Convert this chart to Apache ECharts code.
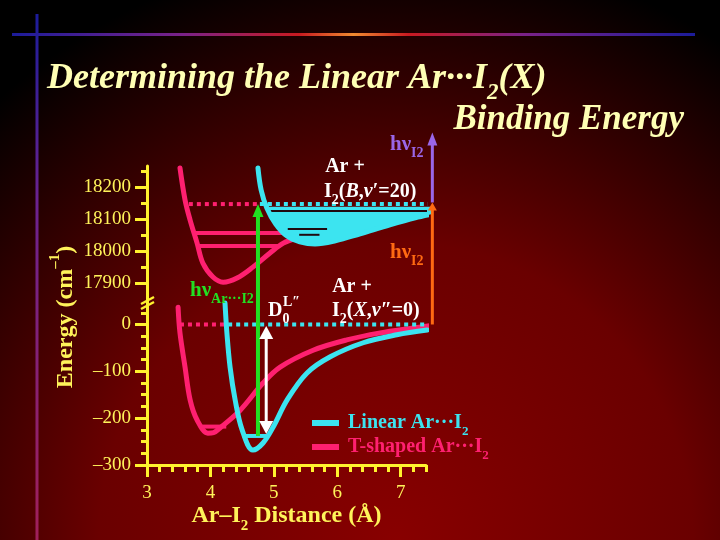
<!DOCTYPE html>
<html><head><meta charset="utf-8">
<script src="https://cdn.jsdelivr.net/npm/echarts@6/dist/echarts.min.js"></script>
<style>html,body{margin:0;padding:0;background:#000}#c{width:720px;height:540px}</style>
</head><body><div id="c"></div>
<script>
// ---------- data ----------
// upper (B state) potentials, energy in cm^-1, distance in Å
const pinkB_x = [3.52,3.60,3.68,3.79,3.88,4.04,4.20,4.42,4.67,4.94,5.15,5.37,5.73,6.36,6.99,7.46];
const pinkB_E = [18259,18159,18096,18024,17962,17918,17902,17915,17949,17993,18024,18040,18056,18081,18102,18118];
const cyanB_x = [4.75,4.80,4.89,5.03,5.21,5.41,5.65,5.97,6.36,6.83,7.23,7.50];
const cyanB_E = [18259,18190,18134,18084,18046,18028,18021,18031,18053,18081,18103,18115];
const cyanBFillTop = 18138;
// upper vibrational levels
const pinkBLevelE = [18056, 18015];
const pinkBLevelL = [3.73, 3.82];
const pinkBLevelR = [5.78, 5.10];
const cyanBLevelE = [18124, 18068, 18050];
const cyanBLevelL = [4.93, 5.22, 5.40];
const cyanBLevelR = [7.50, 5.84, 5.72];
const levelB = 18146;            // Ar + I2(B, v'=20)
const levelBPink = [3.66, 4.75];
const levelBCyan = [4.78, 7.49];
// lower (X state) potentials
const pinkX_x = [3.49,3.52,3.60,3.68,3.79,3.96,4.05,4.15,4.47,4.83,5.10,5.62,6.15,6.68,7.20,7.43];
const pinkX_E = [37,-18,-91,-161,-204,-232,-231,-221,-183,-125,-91,-55,-33,-18,-7.5,-3];
const cyanX_x = [4.23,4.26,4.31,4.39,4.50,4.67,4.83,4.99,5.21,5.52,5.89,6.41,6.94,7.42];
const cyanX_E = [46,-18,-91,-161,-225,-268,-253,-219,-161,-104,-69,-39,-22,-12];
const pinkXLevel = {E:-218, L:3.84, R:4.25};
const cyanXLevel = {E:-238, L:4.51, R:4.89};
const levelX = 0;                // Ar + I2(X, v''=0)
const levelXPink = [3.52, 4.28];
const levelXCyan = [4.28, 7.43];
// transitions
const greenX = 4.75, whiteX = 4.88, sideX = 7.50;
const purpleTop = 18370;
// axes
const upperMin = 17840, upperMax = 18265;
const lowerMin = -300, lowerMax = 48;
const xMin = 3, xMax = 7.4;
const upperLabels = [17900, 18000, 18100, 18200];
const upperMinor = [17950, 18050, 18150, 18250];
const lowerLabels = [0, -100, -200, -300];
const lowerMinor = [25, -25, -50, -75, -125, -150, -175, -225, -250, -275];
const xLabels = [3, 4, 5, 6, 7];
const xMinor = [3.2,3.4,3.6,3.8,4.2,4.4,4.6,4.8,5.2,5.4,5.6,5.8,6.2,6.4,6.6,6.8,7.2,7.4];

// ---------- style ----------
const FONT = '"Liberation Serif","Times New Roman",serif';
const CYAN = '#3CE4F0', PINK = '#FF2070', GREEN = '#22E022', ORANGE = '#FF6A12', PURPLE = '#9A66E8';
const YEL = '#FFF22E', YELT = '#FFF35A', TITLE = '#FFFFB4';

const chart = echarts.init(document.getElementById('c'), null, {renderer:'canvas'});

function pts(xs, ys){ return xs.map((x,i)=>[x, ys[i]]); }
function curve(name, xi, yi, xs, ys, color, width, z){
  return {type:'line', name, xAxisIndex:xi, yAxisIndex:yi, data:pts(xs,ys), smooth:0.35,
    symbol:'none', clip:false, silent:true, z, lineStyle:{color, width, cap:'round', join:'round'}, itemStyle:{color}};
}
function seg(xi, yi, x0, x1, y, color, width, dotted, z){
  return {type:'line', xAxisIndex:xi, yAxisIndex:yi, data:[[x0,y],[x1,y]], symbol:'none', clip:false, silent:true, z,
    lineStyle:{color, width, type: dotted ? [4,4] : 'solid', cap:'butt'}};
}
function arrow(xi, yi, x, y0, y1, color, width, headEnd, headStart, hl, hw, z){
  return {type:'custom', xAxisIndex:xi, yAxisIndex:yi, clip:false, silent:true, z,
    data:[[x,y0,y1]], encode:{x:0, y:[1,2]},
    renderItem:(p, api)=>{
      const a = api.coord([api.value(0), api.value(1)]);
      const b = api.coord([api.value(0), api.value(2)]);
      const dx=b[0]-a[0], dy=b[1]-a[1], L=Math.hypot(dx,dy), ux=dx/L, uy=dy/L;
      const head=(t,vx,vy)=>({type:'polygon', shape:{points:[
        [t[0],t[1]],
        [t[0]-vx*hl+(-vy)*hw/2, t[1]-vy*hl+vx*hw/2],
        [t[0]-vx*hl-(-vy)*hw/2, t[1]-vy*hl-vx*hw/2]]}, style:{fill:color}});
      let s=a, e=b; const ch=[];
      if(headEnd){ e=[b[0]-ux*hl*0.8, b[1]-uy*hl*0.8]; ch.push(head(b,ux,uy)); }
      if(headStart){ s=[a[0]+ux*hl*0.8, a[1]+uy*hl*0.8]; ch.push(head(a,-ux,-uy)); }
      ch.unshift({type:'line', shape:{x1:s[0],y1:s[1],x2:e[0],y2:e[1]}, style:{stroke:color, lineWidth:width}});
      return {type:'group', children:ch};
    }};
}

const series = [];
// ---- upper grid (0) ----
series.push(curve('pinkB', 0, 0, pinkB_x, pinkB_E, PINK, 5, 2));
pinkBLevelE.forEach((E,i)=>series.push(seg(0,0,pinkBLevelL[i],pinkBLevelR[i],E,PINK,4,false,2)));
series.push(seg(0,0,levelBPink[0],levelBPink[1],levelB,PINK,4,true,2));
series.push({type:'custom', xAxisIndex:0, yAxisIndex:0, clip:false, silent:true, z:3,
  data:[[5.5,18100]],
  renderItem:(p, api)=>{
    const inside = pts(cyanB_x, cyanB_E).filter(d=>d[1] <= cyanBFillTop);
    const poly = inside.map(d=>api.coord(d));
    poly.push(api.coord([inside[inside.length-1][0], cyanBFillTop]));
    poly.push(api.coord([inside[0][0], cyanBFillTop]));
    return {type:'polygon', shape:{points:poly, smooth:0}, style:{fill:CYAN}};
  }});
cyanBLevelE.forEach((E,i)=>series.push(seg(0,0,cyanBLevelL[i],cyanBLevelR[i],E,'#200a10',2,false,4)));
series.push(curve('cyanB', 0, 0, cyanB_x, cyanB_E, CYAN, 5, 5));
series.push(seg(0,0,levelBCyan[0],levelBCyan[1],levelB,CYAN,4,true,5));
// ---- lower grid (1) ----
series.push(curve('T-shaped', 1, 2, pinkX_x, pinkX_E, PINK, 5, 2));
series.push(seg(1,2,pinkXLevel.L,pinkXLevel.R,pinkXLevel.E,PINK,4,false,2));
series.push(seg(1,2,levelXPink[0],levelXPink[1],levelX,PINK,4,true,2));
series.push(curve('Linear', 1, 2, cyanX_x, cyanX_E, CYAN, 5, 3));
series.push(seg(1,2,cyanXLevel.L,cyanXLevel.R,cyanXLevel.E,CYAN,4,false,3));
series.push(seg(1,2,levelXCyan[0],levelXCyan[1],levelX,CYAN,4,true,3));
// ---- transitions ----
series.push(arrow(1,2,greenX,cyanXLevel.E,lowerMax,GREEN,4,false,false,12,11,8));
series.push(arrow(0,0,greenX,upperMin,levelB,GREEN,4,true,false,13,11,8));
series.push(arrow(1,2,whiteX,cyanXLevel.E+4,levelX-3,'#FFFFFF',3,true,true,13,14,8));
series.push(arrow(1,2,sideX,levelX,lowerMax,ORANGE,3,false,false,8,8,8));
series.push(arrow(0,0,sideX,upperMin,levelB+5,ORANGE,3,true,false,8,9,8));
series.push(arrow(0,0,sideX,levelB+5,purpleTop,PURPLE,3,true,false,13,10,8));

const axisLbl = {color:YELT, fontFamily:FONT, fontSize:19};
const option = {
  backgroundColor: new echarts.graphic.RadialGradient(0.55, 1.0, 1.1, [
    {offset:0, color:'#880000'}, {offset:0.5, color:'#6a0000'}, {offset:1, color:'#000000'}]),
  animation:false,
  grid:[
    {left:147, top:166, width:279, height:136},
    {left:147, top:302, width:279, height:163}
  ],
  xAxis:[
    {gridIndex:0, type:'value', min:xMin, max:xMax, show:false},
    {gridIndex:1, type:'value', min:xMin, max:xMax, position:'bottom',
      axisLine:{show:true, onZero:false, lineStyle:{color:YEL, width:3}},
      axisTick:{show:true, customValues:xLabels, length:12, lineStyle:{color:YEL, width:3}},
      axisLabel:Object.assign({customValues:xLabels, margin:19}, axisLbl),
      splitLine:{show:false},
      name:'{a|Ar–I}{s|2}{a| Distance (Å)}', nameLocation:'middle', nameGap:37,
      nameTextStyle:{rich:{a:{color:YELT, fontFamily:FONT, fontSize:24, fontWeight:'bold'},
        s:{color:YELT, fontFamily:FONT, fontSize:15, fontWeight:'bold', verticalAlign:'bottom', padding:[0,0,-6,0]}}}},
    {gridIndex:1, type:'value', min:xMin, max:xMax, position:'bottom',
      axisLine:{show:false, onZero:false}, axisTick:{show:true, customValues:xMinor, length:7, lineStyle:{color:YEL, width:3}},
      axisLabel:{show:false}, splitLine:{show:false}}
  ],
  yAxis:[
    {gridIndex:0, type:'value', min:upperMin, max:upperMax, position:'left',
      axisLine:{show:true, onZero:false, lineStyle:{color:YEL, width:3}},
      axisTick:{show:true, customValues:upperLabels, length:12, lineStyle:{color:YEL, width:3}},
      axisLabel:Object.assign({customValues:upperLabels, margin:16, formatter:v=>String(v)}, axisLbl),
      splitLine:{show:false}},
    {gridIndex:0, type:'value', min:upperMin, max:upperMax, position:'left',
      axisLine:{show:false, onZero:false}, axisTick:{show:true, customValues:upperMinor, length:6, lineStyle:{color:YEL, width:3}},
      axisLabel:{show:false}, splitLine:{show:false}},
    {gridIndex:1, type:'value', min:lowerMin, max:lowerMax, position:'left',
      axisLine:{show:true, onZero:false, lineStyle:{color:YEL, width:3}},
      axisTick:{show:true, customValues:lowerLabels, length:12, lineStyle:{color:YEL, width:3}},
      axisLabel:Object.assign({customValues:lowerLabels, margin:16,
        formatter:v=> v<0 ? '–'+Math.abs(v) : String(v)}, axisLbl),
      splitLine:{show:false}},
    {gridIndex:1, type:'value', min:lowerMin, max:lowerMax, position:'left',
      axisLine:{show:false, onZero:false}, axisTick:{show:true, customValues:lowerMinor, length:6, lineStyle:{color:YEL, width:3}},
      axisLabel:{show:false}, splitLine:{show:false}}
  ],
  legend:{
    show:true, orient:'vertical', left:307, top:408, itemWidth:27, itemHeight:6, itemGap:-1,
    icon:'rect', selectedMode:false,
    data:[{name:'Linear', itemStyle:{color:CYAN}}, {name:'T-shaped', itemStyle:{color:PINK}}],
    formatter:n=> n==='Linear' ? '{c|Linear Ar···I}{cs|2}' : '{p|T-shaped Ar···I}{ps|2}',
    textStyle:{fontFamily:FONT, fontSize:20, fontWeight:'bold', padding:[0,0,0,4],
      rich:{c:{color:CYAN, fontFamily:FONT, fontSize:20, fontWeight:'bold'},
            cs:{color:CYAN, fontFamily:FONT, fontSize:13, fontWeight:'bold', verticalAlign:'bottom', padding:[0,0,-5,0]},
            p:{color:PINK, fontFamily:FONT, fontSize:20, fontWeight:'bold'},
            ps:{color:PINK, fontFamily:FONT, fontSize:13, fontWeight:'bold', verticalAlign:'bottom', padding:[0,0,-5,0]}}}
  },
  series,
  graphic:[
    // decorative rules
    {type:'rect', silent:true, z:-1, shape:{x:12, y:33, width:683, height:3},
      style:{fill:new echarts.graphic.LinearGradient(0,0,1,0,[
        {offset:0,color:'#1c1c9a'},{offset:0.25,color:'#7a2288'},{offset:0.42,color:'#c81a20'},
        {offset:0.5,color:'#f08a30'},{offset:0.58,color:'#c81a20'},{offset:0.75,color:'#7a2288'},{offset:1,color:'#1c1c9a'}])}},
    {type:'rect', silent:true, z:-1, shape:{x:35.5, y:14, width:3, height:526},
      style:{fill:new echarts.graphic.LinearGradient(0,0,0,1,[
        {offset:0,color:'#1c1c9a'},{offset:0.35,color:'#6a2290'},{offset:1,color:'#a0205a'}])}},
    // title
    {type:'text', silent:true, style:{x:47, y:61, verticalAlign:'top', text:'{t|Determining the Linear Ar···I}{s|2}{t|(X)}',
      rich:{t:{fill:TITLE, fontFamily:FONT, fontSize:36, fontStyle:'italic', fontWeight:'bold'},
            s:{fill:TITLE, fontFamily:FONT, fontSize:23, fontStyle:'italic', fontWeight:'bold', verticalAlign:'bottom', padding:[0,0,-8,0]}}}},
    {type:'text', silent:true, style:{x:684, y:102, align:'right', verticalAlign:'top', text:'Binding Energy',
      fill:TITLE, fontFamily:FONT, fontSize:35, fontStyle:'italic', fontWeight:'bold'}},
    // y axis name
    {type:'text', silent:true, x:66, y:317, rotation:Math.PI/2,
      style:{x:0, y:0, align:'center', verticalAlign:'middle', text:'{a|Energy (cm}{u|–1}{a|)}',
        rich:{a:{fill:YELT, fontFamily:FONT, fontSize:24, fontWeight:'bold'},
              u:{fill:YELT, fontFamily:FONT, fontSize:15, fontWeight:'bold', verticalAlign:'top', padding:[-6,0,0,0]}}}},
    // axis break mark
    {type:'line', silent:true, z:20, shape:{x1:141, y1:304, x2:154, y2:297}, style:{stroke:YEL, lineWidth:2.5}},
    {type:'line', silent:true, z:20, shape:{x1:141, y1:309, x2:154, y2:302}, style:{stroke:YEL, lineWidth:2.5}},
    // annotations
    {type:'text', silent:true, z:30, style:{x:390, y:145, verticalAlign:'middle', text:'{a|hν}{s|I2}',
      rich:{a:{fill:PURPLE, fontFamily:FONT, fontSize:21, fontWeight:'bold'},
            s:{fill:PURPLE, fontFamily:FONT, fontSize:14, fontWeight:'bold', verticalAlign:'bottom', padding:[0,0,-5,0]}}}},
    {type:'text', silent:true, z:30, style:{x:345, y:167, align:'center', verticalAlign:'middle', text:'Ar +',
      fill:'#FFFFFF', fontFamily:FONT, fontSize:20, fontWeight:'bold'}},
    {type:'text', silent:true, z:30, style:{x:324, y:192, verticalAlign:'middle', text:'{a|I}{s|2}{a|(}{i|B}{a|,}{i|v}{a|′=20)}',
      rich:{a:{fill:'#FFFFFF', fontFamily:FONT, fontSize:20, fontWeight:'bold'},
            i:{fill:'#FFFFFF', fontFamily:FONT, fontSize:20, fontWeight:'bold', fontStyle:'italic'},
            s:{fill:'#FFFFFF', fontFamily:FONT, fontSize:14, fontWeight:'bold', verticalAlign:'bottom', padding:[0,0,-5,0]}}}},
    {type:'text', silent:true, z:30, style:{x:390, y:253, verticalAlign:'middle', text:'{a|hν}{s|I2}',
      rich:{a:{fill:ORANGE, fontFamily:FONT, fontSize:21, fontWeight:'bold'},
            s:{fill:ORANGE, fontFamily:FONT, fontSize:14, fontWeight:'bold', verticalAlign:'bottom', padding:[0,0,-5,0]}}}},
    {type:'text', silent:true, z:30, style:{x:190, y:291, verticalAlign:'middle', text:'{a|hν}{s|Ar···I2}',
      rich:{a:{fill:GREEN, fontFamily:FONT, fontSize:21, fontWeight:'bold'},
            s:{fill:GREEN, fontFamily:FONT, fontSize:14, fontWeight:'bold', verticalAlign:'bottom', padding:[0,0,-5,0]}}}},
    {type:'text', silent:true, z:30, style:{x:352, y:287, align:'center', verticalAlign:'middle', text:'Ar +',
      fill:'#FFFFFF', fontFamily:FONT, fontSize:20, fontWeight:'bold'}},
    {type:'text', silent:true, z:30, style:{x:332, y:311, verticalAlign:'middle', text:'{a|I}{s|2}{a|(}{i|X}{a|,}{i|v}{a|″=0)}',
      rich:{a:{fill:'#FFFFFF', fontFamily:FONT, fontSize:20, fontWeight:'bold'},
            i:{fill:'#FFFFFF', fontFamily:FONT, fontSize:20, fontWeight:'bold', fontStyle:'italic'},
            s:{fill:'#FFFFFF', fontFamily:FONT, fontSize:14, fontWeight:'bold', verticalAlign:'bottom', padding:[0,0,-5,0]}}}},
    {type:'text', silent:true, z:30, style:{x:268, y:311, verticalAlign:'middle', text:'{a|D}{s|0}',
      rich:{a:{fill:'#FFFFFF', fontFamily:FONT, fontSize:20, fontWeight:'bold'},
            s:{fill:'#FFFFFF', fontFamily:FONT, fontSize:14, fontWeight:'bold', verticalAlign:'bottom', padding:[0,0,-5,0]}}}},
    {type:'text', silent:true, z:30, style:{x:283, y:302, verticalAlign:'middle', text:'L″',
      fill:'#FFFFFF', fontFamily:FONT, fontSize:14, fontWeight:'bold'}}
  ]
};
chart.setOption(option);
</script></body></html>
